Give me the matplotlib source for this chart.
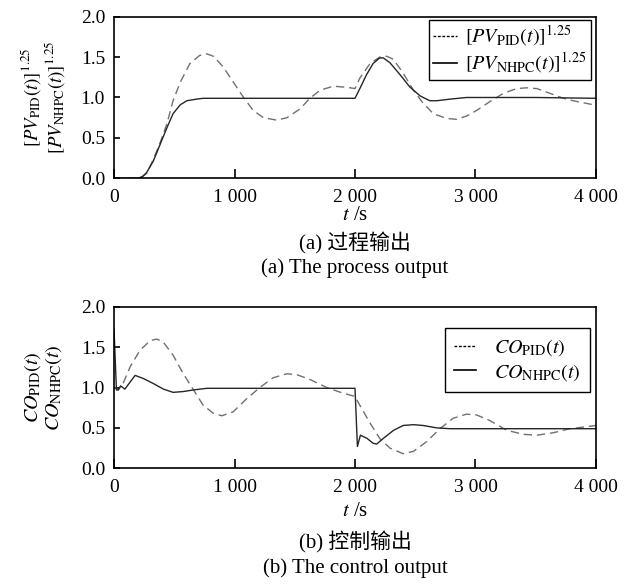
import matplotlib
matplotlib.use('Agg')
import matplotlib.pyplot as plt
from matplotlib.lines import Line2D

plt.rcParams['font.family'] = ['Liberation Serif', 'Noto Sans CJK SC']
plt.rcParams['mathtext.fontset'] = 'stix'
plt.rcParams['font.size'] = 14

# (a) process output
t_pv_pid = [0, 200, 235, 270, 325, 380, 440, 490, 550, 630, 710, 770, 825, 905, 990,
            1075, 1155, 1240, 1350, 1435, 1545, 1625, 1710, 1820, 1900, 1960, 2000,
            2040, 2125, 2205, 2265, 2320, 2400, 2485, 2565, 2650, 2760, 2845, 2925,
            3010, 3120, 3230, 3340, 3425, 3510, 3620, 3730, 3840, 3980, 4000]
pv_pid = [0.0, 0.0, 0.02, 0.06, 0.23, 0.43, 0.68, 0.96, 1.19, 1.42, 1.52, 1.54, 1.51, 1.38, 1.19,
          1.00, 0.84, 0.75, 0.72, 0.75, 0.86, 0.99, 1.09, 1.14, 1.13, 1.12, 1.11,
          1.24, 1.42, 1.50, 1.51, 1.47, 1.30, 1.09, 0.93, 0.80, 0.74, 0.73, 0.77,
          0.84, 0.95, 1.05, 1.11, 1.12, 1.11, 1.05, 0.99, 0.95, 0.91, 0.91]

t_pv_nhpc = [0, 200, 235, 270, 325, 380, 440, 490, 550, 605, 685, 740, 1000, 1500, 2000,
             2040, 2095, 2150, 2205, 2235, 2290, 2375, 2455, 2540, 2620, 2680, 2790,
             2925, 3500, 4000]
pv_nhpc = [0.0, 0.0, 0.02, 0.07, 0.21, 0.41, 0.63, 0.80, 0.91, 0.96, 0.98, 0.99, 0.99, 0.99, 0.99,
           1.11, 1.28, 1.42, 1.49, 1.49, 1.43, 1.28, 1.13, 1.02, 0.96, 0.96, 0.98,
           1.00, 1.00, 0.99]

# (b) control output
t_co_pid = [0, 35, 75, 135, 215, 300, 355, 410, 490, 575, 660, 740, 825, 895, 990,
            1100, 1210, 1320, 1435, 1515, 1625, 1765, 1900, 2000, 2040, 2125, 2205,
            2290, 2400, 2485, 2595, 2705, 2815, 2925, 3010, 3120, 3260, 3400, 3510,
            3645, 3785, 3895, 4000]
co_pid = [1.00, 0.97, 1.05, 1.26, 1.46, 1.58, 1.60, 1.56, 1.40, 1.17, 0.97, 0.78, 0.68, 0.65, 0.70,
          0.86, 1.00, 1.12, 1.17, 1.16, 1.10, 1.00, 0.93, 0.89, 0.78, 0.56, 0.37,
          0.25, 0.18, 0.21, 0.33, 0.49, 0.62, 0.67, 0.66, 0.59, 0.47, 0.42, 0.41,
          0.44, 0.49, 0.51, 0.53]

t_co_nhpc = [0, 20, 35, 55, 90, 135, 175, 245, 325, 410, 490, 575, 660, 770, 2000,
             2020, 2045, 2100, 2150, 2180, 2235, 2320, 2400, 2485, 2565, 2680, 2790, 4000]
co_nhpc = [1.72, 0.97, 0.97, 1.02, 0.98, 1.07, 1.15, 1.11, 1.05, 0.98, 0.94, 0.95, 0.97, 0.99, 0.99,
           0.27, 0.41, 0.37, 0.31, 0.30, 0.37, 0.47, 0.53, 0.54, 0.53, 0.50, 0.49, 0.49]

x_ticks = [0, 1000, 2000, 3000, 4000]
x_tick_labels = ['0', '1 000', '2 000', '3 000', '4 000']
y_ticks = [0.0, 0.5, 1.0, 1.5, 2.0]

pid_color = '#707070'
nhpc_color = '#262626'

fig = plt.figure(figsize=(6.3, 5.85), dpi=100)
ax1 = fig.add_axes([0.181, 0.6952, 0.765, 0.2763])
ax2 = fig.add_axes([0.181, 0.1995, 0.765, 0.2762])


def style_axis(ax):
    ax.set_xlim(0, 4000)
    ax.set_ylim(0, 2)
    ax.set_xticks(x_ticks)
    ax.set_xticklabels(x_tick_labels)
    ax.set_yticks(y_ticks)
    ax.set_yticklabels(['%.1f' % v for v in y_ticks])
    ax.tick_params(axis='x', direction='in', length=6.5, width=1.2, pad=8, labelsize=14)
    ax.tick_params(axis='y', direction='in', length=4, width=1.2, pad=6.5, labelsize=14)
    for s in ax.spines.values():
        s.set_linewidth(1.2)


ax1.plot(t_pv_pid, pv_pid, color=pid_color, lw=1.0, dashes=(6, 3.5))
ax1.plot(t_pv_nhpc, pv_nhpc, color=nhpc_color, lw=1.0)
style_axis(ax1)
ax1.set_ylabel(r'$[PV_{\mathrm{PID}}(t)]^{1.25}$' + '\n' + r'$[PV_{\mathrm{NHPC}}(t)]^{1.25}$',
               fontsize=13.5, linespacing=1.0)
ax1.yaxis.set_label_coords(-0.098, 0.5)
h1 = [Line2D([], [], color='k', lw=1.0, dashes=(2, 1.2)), Line2D([], [], color='k', lw=1.2)]
ax1.legend(h1, [r'$[PV_{\mathrm{PID}}(t)]^{1.25}$', r'$[PV_{\mathrm{NHPC}}(t)]^{1.25}$'],
           loc='upper right', bbox_to_anchor=(0.9896, 0.9796), fontsize=14.5, frameon=True,
           fancybox=False, edgecolor='k', handlelength=1.2, handletextpad=0.4,
           borderpad=0.2, labelspacing=0.1, borderaxespad=0.0, framealpha=1)

ax2.plot(t_co_pid, co_pid, color=pid_color, lw=1.0, dashes=(6, 3.5))
ax2.plot(t_co_nhpc, co_nhpc, color=nhpc_color, lw=1.0)
style_axis(ax2)
ax2.set_ylabel(r'$CO_{\mathrm{PID}}(t)$' + '\n' + r'$CO_{\mathrm{NHPC}}(t)$', fontsize=14.5,
               linespacing=1.0)
ax2.yaxis.set_label_coords(-0.104, 0.5)
h2 = [Line2D([], [], color='k', lw=1.0, dashes=(2, 1.2)), Line2D([], [], color='k', lw=1.2)]
ax2.legend(h2, [r'$CO_{\mathrm{PID}}(t)$', r'$CO_{\mathrm{NHPC}}(t)$'],
           loc='upper right', bbox_to_anchor=(0.9876, 0.868), fontsize=14.5, frameon=True,
           fancybox=False, edgecolor='k', handlelength=1.1, handletextpad=0.9,
           borderpad=0.45, labelspacing=0.2, borderaxespad=0.0, framealpha=1)

xc = 0.5635
fig.text(xc, 1 - 216 / 585, r'$t$ /s', ha='center', va='center', fontsize=15)
fig.text(xc, 1 - 243 / 585, '(a) 过程输出', ha='center', va='center', fontsize=15)
fig.text(xc, 1 - 268 / 585, '(a) The process output', ha='center', va='center', fontsize=15)
fig.text(xc, 1 - 511 / 585, r'$t$ /s', ha='center', va='center', fontsize=15)
fig.text(xc, 1 - 542 / 585, '(b) 控制输出', ha='center', va='center', fontsize=15)
fig.text(xc, 1 - 568 / 585, '(b) The control output', ha='center', va='center', fontsize=15)

fig.savefig('out.png', dpi=100)
